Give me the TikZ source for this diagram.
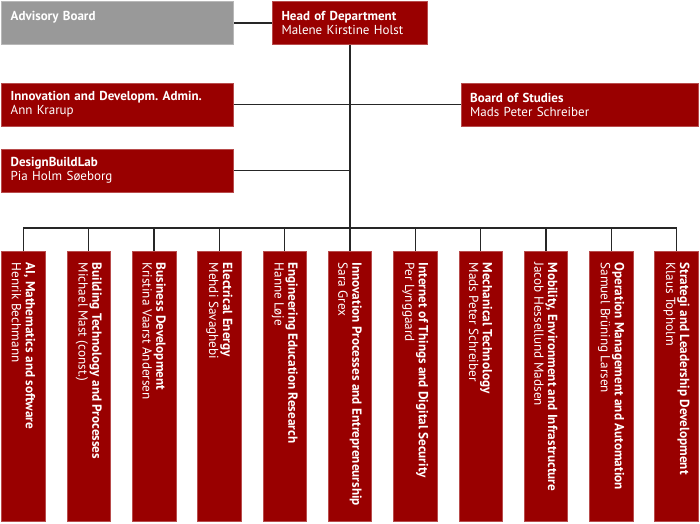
\documentclass[tikz,border=0pt]{standalone}
\usepackage{fontspec}
\setmainfont{PT Sans}
\usetikzlibrary{positioning}
\definecolor{dturod}{HTML}{990000}
\definecolor{graa}{HTML}{999999}
\frenchspacing

\begin{document}
\begin{tikzpicture}[x=1pt,y=1pt]
\tikzstyle{boks} = [fill=dturod, draw=dturod!70!white, line width=0.6pt, text=white, align=left, inner xsep=9pt, minimum height=43pt, font=\fontsize{13}{14}\selectfont]
\tikzstyle{sektion} = [fill=dturod, draw=dturod!70!white, line width=0.6pt, minimum width=43.5pt, minimum height=270pt, inner sep=0pt]
\tikzstyle{tekst} = [text=white, rotate=-90, anchor=west, align=left, inner sep=0pt, font=\fontsize{13.2}{13.8}\selectfont]
\tikzstyle{streg} = [draw=black!85, line width=1.3pt]

\useasboundingbox (0,0) rectangle (700,-523);

\node [boks, fill=graa, draw=graa!70!white, text width=214pt] (advisory) at (117.7,-23) {\textbf{Advisory Board}\\\mbox{}};

\node [boks, text width=137pt] (head) [right of=advisory, node distance=232.3pt] {\textbf{Head of Department}\\Malene Kirstine Holst};
\draw [streg] (advisory) -- (head);

\node [boks, text width=214pt] (innovation) [below of=advisory, node distance=81.5pt] {\textbf{Innovation and Developm. Admin.}\\Ann Krarup};

\node [boks, text width=219pt] (board) [right of=innovation, node distance=462pt] {\textbf{Board of Studies}\\Mads Peter Schreiber};
\draw [streg] (innovation) -- (board);

\node [boks, text width=214pt] (dbl) [below of=innovation, node distance=66pt] {\textbf{DesignBuildLab}\\Pia Holm Søeborg};
\draw [streg] (dbl) -- (dbl -| head);

\coordinate (bus) at (0,-228);

\node [sektion] (ai) at (23.5,-386.7) {};
\node [tekst] (ai-tekst) at ([yshift=-11pt]ai.north) {\textbf{AI, Mathematics and software}\\Henrik Bechmann};

\node [sektion] (building) [right of=ai, node distance=65.3pt] {};
\node [tekst] (building-tekst) at ([yshift=-11pt]building.north) {\textbf{Building Technology and Processes}\\Michael Mast (const.)};
\draw [streg] (building |- bus) -- (building);

\node [sektion] (business) [right of=building, node distance=65.3pt] {};
\node [tekst] (business-tekst) at ([yshift=-11pt]business.north) {\textbf{Business Development}\\Kristina Vaarst Andersen};
\draw [streg] (business |- bus) -- (business);

\node [sektion] (electrical) [right of=business, node distance=65.3pt] {};
\node [tekst] (electrical-tekst) at ([yshift=-11pt]electrical.north) {\textbf{Electrical Energy}\\Mehdi Savaghebi};
\draw [streg] (electrical |- bus) -- (electrical);

\node [sektion] (engineering) [right of=electrical, node distance=65.3pt] {};
\node [tekst] (engineering-tekst) at ([yshift=-11pt]engineering.north) {\textbf{Engineering Education Research}\\Hanne Løje};
\draw [streg] (engineering |- bus) -- (engineering);

\node [sektion] (innovproc) [right of=engineering, node distance=65.3pt] {};
\node [tekst] (innovproc-tekst) at ([yshift=-11pt]innovproc.north) {\textbf{Innovation Processes and Entrepreneurship}\\Sara Grex};
\draw [streg] (head) -- (innovproc);

\node [sektion] (iot) [right of=innovproc, node distance=65.3pt] {};
\node [tekst] (iot-tekst) at ([yshift=-11pt]iot.north) {\textbf{Internet of Things and Digital Security}\\Per Lynggaard};
\draw [streg] (iot |- bus) -- (iot);

\node [sektion] (mechanical) [right of=iot, node distance=65.3pt] {};
\node [tekst] (mechanical-tekst) at ([yshift=-11pt]mechanical.north) {\textbf{Mechanical Technology}\\Mads Peter Schreiber};
\draw [streg] (mechanical |- bus) -- (mechanical);

\node [sektion] (mobility) [right of=mechanical, node distance=65.3pt] {};
\node [tekst] (mobility-tekst) at ([yshift=-11pt]mobility.north) {\textbf{Mobility, Environment and Infrastructure}\\Jacob Hessellund Madsen};
\draw [streg] (mobility |- bus) -- (mobility);

\node [sektion] (operation) [right of=mobility, node distance=65.3pt] {};
\node [tekst] (operation-tekst) at ([yshift=-11pt]operation.north) {\textbf{Operation Management and Automation}\\Samuel Brüning Larsen};
\draw [streg] (operation |- bus) -- (operation);

\node [sektion] (strategi) [right of=operation, node distance=65.3pt] {};
\node [tekst] (strategi-tekst) at ([yshift=-11pt]strategi.north) {\textbf{Strategi and Leadership Development}\\Klaus Topholm};

\draw [streg] (ai) -- (ai |- bus) -- (strategi |- bus) -- (strategi);

\end{tikzpicture}
\end{document}
